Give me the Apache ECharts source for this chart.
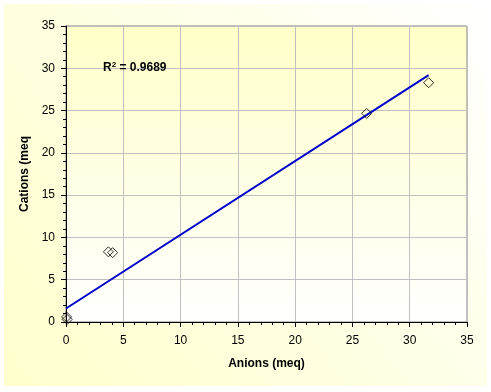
<!DOCTYPE html>
<html>
<head>
<meta charset="utf-8">
<script src="https://cdn.jsdelivr.net/npm/echarts@6/dist/echarts.min.js"></script>
<style>html,body{margin:0;padding:0;background:#fff}#c{width:491px;height:392px}</style>
</head>
<body>
<div id="c"></div>
<script>
// Data
const anions = [0.05, 0.1, 3.7, 4.07, 26.24, 31.65];
const cations = [0.6, 0.3, 8.3, 8.2, 24.67, 28.29];
const trendX = [0, 31.65];
const trendY = [1.6, 29.2];
const xTicks = [0, 5, 10, 15, 20, 25, 30, 35];
const yTicks = [0, 5, 10, 15, 20, 25, 30, 35];
const rSquared = '0.9689';

const chart = echarts.init(document.getElementById('c'), null, {renderer: 'canvas'});
const font = '"Liberation Sans", Arial, sans-serif';
const axisCommon = {
  type: 'value', min: 0, max: 35, interval: 5,
  axisLine: {show: true, onZero: false, lineStyle: {color: '#000', width: 1}},
  axisTick: {show: true, inside: false, length: 5, lineStyle: {color: '#000'}},
  minorTick: {show: true, splitNumber: 5, length: 3, lineStyle: {color: '#000'}},
  splitLine: {show: true, lineStyle: {color: '#C0C0C0', width: 1}},
  axisLabel: {color: '#000', fontFamily: font, fontSize: 12},
  nameTextStyle: {color: '#000', fontFamily: font, fontSize: 12, fontWeight: 'bold'}
};
chart.setOption({
  animation: false,
  backgroundColor: '#fff',
  graphic: [
    {type: 'rect', z: -10, shape: {x: 4, y: 4, width: 483, height: 382},
     style: {fill: new echarts.graphic.LinearGradient(0, 1, 1, 0, [
       {offset: 0, color: '#FFFFCC'}, {offset: 0.55, color: '#FFFFE6'}, {offset: 1, color: '#FFFFFF'}])}},
    {type: 'text', left: 103, top: 61, z: 10,
     style: {rich: {b: {fontFamily: font, fontSize: 12, fontWeight: 'bold', fill: '#000'},
                    s: {fontFamily: font, fontSize: 8, fontWeight: 'bold', fill: '#000', verticalAlign: 'top', padding: [0, 0, 6, 0]}},
             text: '{b|R}{s|2}{b| = ' + rSquared + '}'}}
  ],
  grid: {left: 66, right: 24, top: 26, bottom: 70, show: true,
    backgroundColor: new echarts.graphic.LinearGradient(0, 0, 0, 1, [
      {offset: 0, color: '#FFFFC8'}, {offset: 1, color: '#FFFFFF'}]),
    borderColor: '#808080', borderWidth: 1},
  xAxis: Object.assign({}, axisCommon, {
    name: 'Anions (meq)', nameLocation: 'middle', nameGap: 36,
    axisLabel: Object.assign({}, axisCommon.axisLabel, {margin: 13,
      formatter: v => xTicks.includes(v) ? String(v) : ''})
  }),
  yAxis: Object.assign({}, axisCommon, {
    name: 'Cations (meq', nameLocation: 'middle', nameGap: 33, nameRotate: 90,
    axisLabel: Object.assign({}, axisCommon.axisLabel, {margin: 11,
      formatter: v => yTicks.includes(v) ? String(v) : ''})
  }),
  series: [
    {type: 'line', data: trendX.map((x, i) => [x, trendY[i]]), symbol: 'none',
     lineStyle: {color: '#0000CC', width: 2}, z: 3},
    {type: 'scatter', data: anions.map((x, i) => [x, cations[i]]), symbol: 'diamond', symbolSize: 10,
     itemStyle: {color: 'rgba(255,255,255,0)', borderColor: '#000', borderWidth: 1}, z: 4}
  ]
});
</script>
</body>
</html>
